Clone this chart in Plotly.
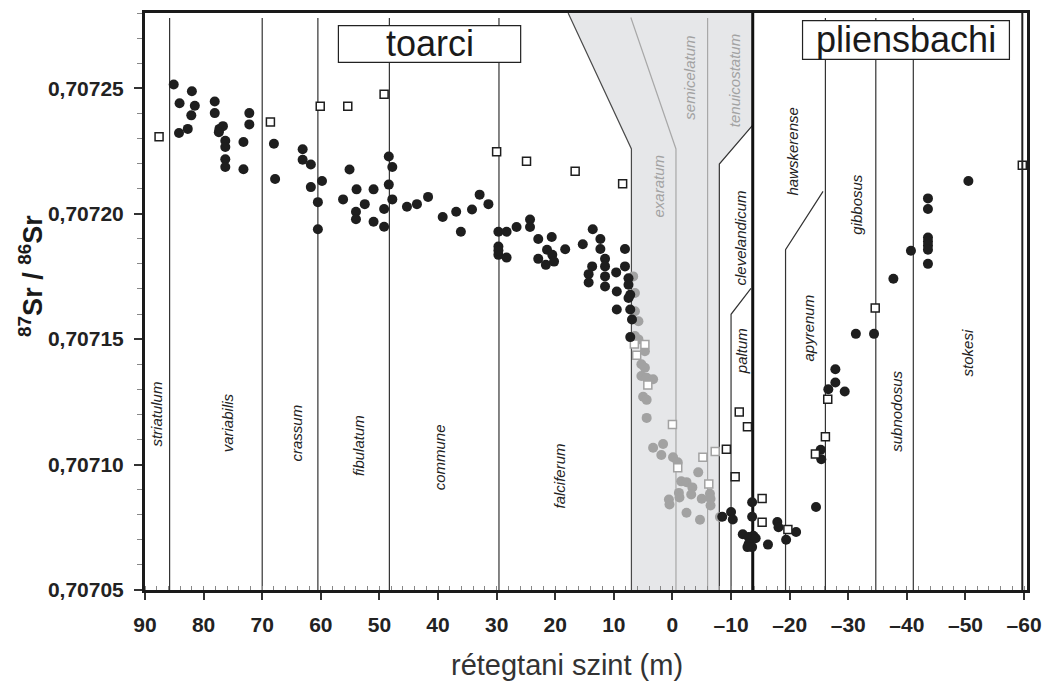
import plotly.graph_objects as go

# ---- measured Sr isotope data (stratigraphic level in m, 87Sr/86Sr) ----
black_x = [85.1, 84.1, 82.0, 81.5, 82.1, 84.2, 82.7, 78.1, 78.1, 77.3, 76.7, 77.4, 76.3, 76.3,
           76.3, 76.3, 73.2, 73.2, 72.2, 72.2, 68.0, 67.8, 63.1, 63.1, 61.7, 61.7, 59.8, 60.5,
           60.5, 55.1, 56.2, 53.9, 54.0, 54.0, 52.5, 51.0, 51.0, 49.2, 49.2, 48.4, 47.8, 48.4,
           47.8, 45.3, 43.6, 41.7, 39.2, 36.9, 36.1, 34.2, 32.9, 31.4, 29.7, 28.3, 26.6, 24.3,
           24.3, 29.7, 29.7, 28.3, 29.7, 22.9, 20.6, 22.9, 21.4, 20.5, 21.6, 20.2, 18.3, 15.3,
           13.6, 12.3, 12.3, 11.5, 11.5, 11.5, 11.5, 13.7, 14.3, 14.3, 8.1, 8.1, 7.5, 7.5,
           7.2, 7.5, 9.5, 9.5, 7.2, 6.9, 7.2, 9.6,
           -8.5, -10.0, -10.3, -13.6, -13.6, -12.0, -13.0, -13.8, -14.2, -13.0, -13.6, -12.8,
           -16.3, -17.9, -18.1, -21.1, -19.4, -24.5, -25.3, -25.4, -26.6, -27.8, -27.8, -29.4,
           -31.3, -34.4, -37.7, -40.7, -43.6, -43.6, -43.6, -43.6, -43.6, -43.6, -43.6, -50.5]
black_y = [0.7072515, 0.7072440, 0.7072488, 0.7072430, 0.7072392, 0.7072322, 0.7072338,
           0.7072447, 0.7072401, 0.7072338, 0.7072349, 0.7072325, 0.7072291, 0.7072266,
           0.7072217, 0.7072186, 0.7072286, 0.7072177, 0.7072401, 0.7072356, 0.7072279,
           0.7072138, 0.7072257, 0.7072215, 0.7072196, 0.7072106, 0.7072130, 0.7072046,
           0.7071938, 0.7072176, 0.7072057, 0.7072097, 0.7072008, 0.7071978, 0.7072038,
           0.7072097, 0.7071968, 0.7072019, 0.7071948, 0.7072228, 0.7072186, 0.7072116,
           0.7072057, 0.7072028, 0.7072038, 0.7072067, 0.7071987, 0.7072008, 0.7071928,
           0.7072017, 0.7072076, 0.7072038, 0.7071928, 0.7071928, 0.7071947, 0.7071977,
           0.7071947, 0.7071869, 0.7071836, 0.7071825, 0.7071853, 0.7071899, 0.7071907,
           0.7071820, 0.7071856, 0.7071836, 0.7071796, 0.7071809, 0.7071858, 0.7071878,
           0.7071938, 0.7071899, 0.7071859, 0.7071820, 0.7071790, 0.7071750, 0.7071710,
           0.7071790, 0.7071759, 0.7071726, 0.7071790, 0.7071859, 0.7071743, 0.7071717,
           0.7071677, 0.7071664, 0.7071690, 0.7071618, 0.7071618, 0.7071578, 0.7071508,
           0.7071766,
           0.7070792, 0.7070811, 0.7070781, 0.7070850, 0.7070792, 0.7070722, 0.7070711,
           0.7070716, 0.7070706, 0.7070683, 0.7070671, 0.7070671, 0.7070681, 0.7070771,
           0.7070750, 0.7070731, 0.7070700, 0.7070831, 0.7071059, 0.7071021, 0.7071300,
           0.7071327, 0.7071380, 0.7071291, 0.7071521, 0.7071521, 0.7071741, 0.7071852,
           0.7072061, 0.7072019, 0.7071905, 0.7071889, 0.7071873, 0.7071856, 0.7071800,
           0.7072130]

square_x = [87.6, 68.6, 60.1, 55.4, 49.2, 30.0, 24.9, 16.6, 8.5, -9.2, -10.7, -11.4, -12.8,
            -15.3, -15.3, -19.7, -24.4, -26.1, -26.5, -34.6, -59.7]
square_y = [0.7072307, 0.7072366, 0.7072428, 0.7072428, 0.7072476, 0.7072247, 0.7072209,
            0.7072169, 0.7072119, 0.7071061, 0.7070951, 0.7071210, 0.7071151, 0.7070865,
            0.7070770, 0.7070741, 0.7071042, 0.7071111, 0.7071260, 0.7071624, 0.7072193]

grey_x = [6.7, 6.4, 6.4, 5.8, 6.4, 5.8, 4.7, 5.3, 4.7, 5.3, 4.4, 3.3, 5.0, 4.4, 4.4, 3.3, 1.6,
          1.9, -0.1, -0.9, -4.4, -1.5, -2.4, -3.4, -3.2, -1.1, -1.2, 0.6, 0.5, -5.0, -6.4,
          -6.5, -6.5, -2.4, -4.7, -8.1]
grey_y = [0.7071750, 0.7071684, 0.7071611, 0.7071571, 0.7071512, 0.7071499, 0.7071452,
          0.7071400, 0.7071386, 0.7071353, 0.7071346, 0.7071340, 0.7071270, 0.7071258,
          0.7071186, 0.7071067, 0.7071082, 0.7071038, 0.7071029, 0.7071009, 0.7070969,
          0.7070933, 0.7070930, 0.7070909, 0.7070881, 0.7070887, 0.7070869, 0.7070861,
          0.7070841, 0.7070864, 0.7070884, 0.7070864, 0.7070837, 0.7070808, 0.7070780,
          0.7070791]

grey_sq_x = [6.5, 4.7, 6.1, 4.2, 0.0, -0.9, -5.2, -7.3, -6.2]
grey_sq_y = [0.7071481, 0.7071479, 0.7071436, 0.7071317, 0.7071160, 0.7070987, 0.7071029,
             0.7071052, 0.7070923]

# ---- ammonite zones: names, label positions, boundaries ----
zone_names = ["striatulum", "variabilis", "crassum", "fibulatum", "commune", "falciferum",
              "exaratum", "semicelatum", "tenuicostatum", "clevelandicum", "paltum",
              "hawskerense", "apyrenum", "gibbosus", "subnodosus", "stokesi"]
zone_x = [88.0, 75.9, 64.1, 53.6, 39.7, 19.2, 2.4, -2.9, -10.5, -11.7, -11.7, -20.5, -23.2,
          -31.5, -38.3, -50.3]
zone_y = [0.7071202, 0.7071167, 0.7071127, 0.7071075, 0.7071028, 0.7070956, 0.7072110,
          0.7072544, 0.7072532, 0.7071901, 0.7071452, 0.7072246, 0.7071544, 0.7072036,
          0.7071214, 0.7071444]
zone_grey = [False] * 6 + [True] * 3 + [False] * 7

zone_bounds = [85.8, 70.0, 60.5, 48.3, 29.6, -26.1, -34.7, -41.1]

stage_names = ["toarci", "pliensbachi"]
stage_box_x = [(57.0, 25.9), (-22.2, -57.5)]
stage_box_y = [(0.7072603, 0.7072750), (0.7072615, 0.7072770)]

y_ticks = [0.70705, 0.70710, 0.70715, 0.70720, 0.70725]
x_ticks = [90, 80, 70, 60, 50, 40, 30, 20, 10, 0, -10, -20, -30, -40, -50, -60]
x_ticktext = [str(v) if v >= 0 else "\u2013" + str(-v) for v in x_ticks]

Y0, Y1 = 0.70705, 0.70728
X0, X1 = 90, -60.5

BLACK = "#1e1e1e"
GREY = "#a2a2a2"
FONT = "Liberation Sans"

fig = go.Figure()

fig.add_trace(go.Scatter(x=grey_x, y=grey_y, mode="markers",
                         marker=dict(symbol="circle", size=10, color=GREY)))
fig.add_trace(go.Scatter(x=grey_sq_x, y=grey_sq_y, mode="markers",
                         marker=dict(symbol="square", size=8, color="white",
                                     line=dict(color=GREY, width=1.5))))
fig.add_trace(go.Scatter(x=black_x, y=black_y, mode="markers",
                         marker=dict(symbol="circle", size=10, color=BLACK)))
fig.add_trace(go.Scatter(x=square_x, y=square_y, mode="markers",
                         marker=dict(symbol="square", size=8, color="white",
                                     line=dict(color=BLACK, width=1.5))))

shapes = []
# shaded band of the lower Toarcian zones
shapes.append(dict(type="path", layer="below",
                   path=f"M 7.0,{Y0} L 7.0,0.7072258 L 17.8,{Y1} L -13.7,{Y1} "
                        f"L -13.7,0.7072353 L -8.0,0.7072198 L -8.0,{Y0} Z",
                   fillcolor="#e6e7e9", line=dict(width=0)))
shapes.append(dict(type="path", layer="below",
                   path=f"M 7.0,{Y0} L 7.0,0.7072258 L 17.8,{Y1}",
                   line=dict(color="#4a4a4a", width=1.2)))
shapes.append(dict(type="path", layer="below",
                   path=f"M -8.0,{Y0} L -8.0,0.7072198 L -13.7,0.7072353",
                   line=dict(color="#333333", width=1.2)))
shapes.append(dict(type="path", layer="below",
                   path=f"M 7.1,0.7072782 L -0.6,0.7072258 L -0.6,{Y0}",
                   line=dict(color="#a8a8a8", width=1.2)))
shapes.append(dict(type="line", layer="below", x0=-6.0, x1=-6.0, y0=Y0, y1=0.707278,
                   line=dict(color="#a8a8a8", width=1.2)))
# zone boundaries
for b in zone_bounds:
    shapes.append(dict(type="line", layer="below", x0=b, x1=b, y0=Y0, y1=0.707278,
                       line=dict(color="#333333", width=1.2)))
shapes.append(dict(type="path", layer="below",
                   path=f"M -10.0,{Y0} L -10.0,0.7071599 L -13.4,0.7071702",
                   line=dict(color="#333333", width=1.2)))
shapes.append(dict(type="path", layer="below",
                   path=f"M -19.3,{Y0} L -19.3,0.7071857 L -25.7,0.7072089",
                   line=dict(color="#333333", width=1.2)))
# stage boundary
shapes.append(dict(type="line", layer="below", x0=-13.7, x1=-13.7, y0=Y0, y1=Y1,
                   line=dict(color="#111111", width=3)))
# inner right frame line
shapes.append(dict(type="line", layer="above", x0=-59.7, x1=-59.7, y0=Y0, y1=Y1,
                   line=dict(color="#222222", width=2)))
# stage name boxes
for (bx0, bx1), (by0, by1) in zip(stage_box_x, stage_box_y):
    shapes.append(dict(type="rect", layer="above", x0=bx0, x1=bx1, y0=by0, y1=by1,
                       fillcolor="white", line=dict(color="#222222", width=1.2)))

annotations = []
for name, (bx0, bx1), (by0, by1) in zip(stage_names, stage_box_x, stage_box_y):
    annotations.append(dict(x=(bx0 + bx1) / 2, y=(by0 + by1) / 2, text=name,
                            showarrow=False, xanchor="center", yanchor="middle",
                            font=dict(family=FONT, size=36, color="#1a1a1a")))
for name, zx, zy, g in zip(zone_names, zone_x, zone_y, zone_grey):
    annotations.append(dict(x=zx, y=zy, text=f"<i>{name}</i>", textangle=-90,
                            showarrow=False, xanchor="center", yanchor="middle",
                            font=dict(family=FONT, size=15,
                                      color=GREY if g else "#222222")))
annotations.append(dict(xref="paper", yref="paper", x=-0.1295, y=0.544,
                        text="<b><sup>87</sup>Sr / <sup>86</sup>Sr</b>", textangle=-90,
                        showarrow=False, xanchor="center", yanchor="middle",
                        font=dict(family=FONT, size=27, color="#1a1a1a")))
annotations.append(dict(xref="paper", yref="paper", x=0.4786, y=-0.1295,
                        text="rétegtani szint (m)", showarrow=False,
                        xanchor="center", yanchor="middle",
                        font=dict(family=FONT, size=29, color="#333333")))

fig.update_layout(
    width=1052, height=682,
    margin=dict(l=145, r=19, t=10, b=92),
    paper_bgcolor="white", plot_bgcolor="white",
    showlegend=False,
    separators=",.",
    shapes=shapes, annotations=annotations,
    xaxis=dict(range=[X0, X1], showgrid=False, zeroline=False,
               showline=True, linewidth=3, linecolor="#1a1a1a", mirror=True,
               tickmode="array", tickvals=x_ticks, ticktext=x_ticktext,
               ticks="outside", ticklen=7, tickwidth=1.5, tickcolor="#333333",
               ticklabelstandoff=7,
               minor=dict(tick0=0, dtick=2, ticks="inside", ticklen=4,
                          tickwidth=1, tickcolor="#888888"),
               tickfont=dict(family=FONT, size=21, weight="bold", color="#222222")),
    yaxis=dict(range=[Y0, Y1], showgrid=False, zeroline=False,
               showline=True, linewidth=3, linecolor="#1a1a1a", mirror=True,
               tickmode="array", tickvals=y_ticks, tickformat=".5f",
               ticks="outside", ticklen=8, tickwidth=1.5, tickcolor="#333333",
               ticklabelstandoff=6,
               minor=dict(tick0=Y0, dtick=0.00001, ticks="outside", ticklen=5,
                          tickwidth=1, tickcolor="#888888"),
               tickfont=dict(family=FONT, size=21, weight="bold", color="#222222")),
)

fig.write_html("out.html")
